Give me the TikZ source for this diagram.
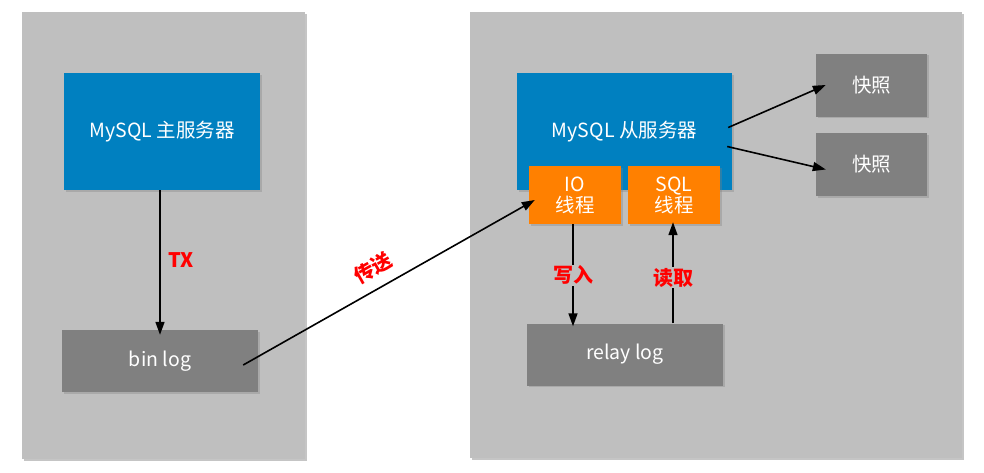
\documentclass[tikz,border=0pt]{standalone}
\usepackage{fontspec}
\setmainfont{Noto Sans CJK SC}
\usetikzlibrary{arrows.meta}
\usetikzlibrary{shadows}
\usetikzlibrary{calc}

\definecolor{panelgray}{RGB}{191,191,191}
\definecolor{loggray}{RGB}{128,128,128}
\definecolor{serverblue}{RGB}{0,128,192}
\definecolor{threadorange}{RGB}{255,128,0}

\tikzset{
  panel/.style={fill=panelgray, draw=none, drop shadow={opacity=0.45, shadow xshift=2pt, shadow yshift=-2pt}},
  box/.style={draw=none, text=white, align=center, inner sep=0pt,
    font=\fontsize{19.5}{21}\selectfont,
    drop shadow={opacity=0.35, shadow xshift=1.5pt, shadow yshift=-1.5pt}},
  server/.style={box, fill=serverblue, minimum width=#1, minimum height=117pt},
  logbox/.style={box, fill=loggray, minimum width=196pt, minimum height=62pt},
  snapbox/.style={box, fill=loggray, minimum width=111pt, minimum height=63pt},
  thread/.style={box, fill=threadorange, minimum width=92pt, minimum height=58pt},
  flow/.style={-{Triangle[length=13pt,width=9pt]}, line width=1.6pt},
  tag/.style={text=red, font=\fontsize{20}{22}\selectfont\bfseries}
}

\begin{document}
\begin{tikzpicture}[x=1pt, y=-1pt]
    \useasboundingbox (0,0) rectangle (984,472);
    \fill[white] (0,0) rectangle (984,472);
    % panels
    \path[panel] (22,12) rectangle (305,459);
    \path[panel] (470,12) rectangle (962,458);
    % master side
    \node[server=196pt] (master) at (162,131.5) {MySQL 主服务器};
    \node[logbox] (binlog) at (160,361) {bin log};
    % slave side
    \node[server=215pt] (slave) at (624.5,131.5) {MySQL 从服务器};
    \node[thread] (io) at (575,195) {IO\\线程};
    \node[thread] (sql) at (674,195) {SQL\\线程};
    \node[logbox] (relaylog) at (625,354.5) {relay log};
    \node[snapbox] (snapA) at (871.5,85) {快照};
    \node[snapbox] (snapB) at (871.5,164.5) {快照};
    % arrows
    \draw[flow] (master.south -| binlog.north) -- node[tag, right=4pt, pos=0.48] {TX} ([yshift=-5pt]binlog.north);
    \draw[flow] ([xshift=-15pt, yshift=-4pt]binlog.east) -- node[tag, sloped, above=7pt, pos=0.48] {传送} ([xshift=6pt, yshift=-5pt]io.west);
    \draw[flow] ([xshift=-2pt]io.south) -- node[tag, pos=0.5, fill=panelgray, inner sep=1pt] {写入} ([xshift=-2pt, yshift=-3pt]io.south |- relaylog.north);
    \draw[flow] ([xshift=-1pt]sql.south |- relaylog.north) -- node[tag, pos=0.45, fill=panelgray, inner sep=1pt] {读取} ([xshift=-1pt, yshift=2pt]sql.south);
    \draw[flow] ([xshift=-4pt, yshift=4pt]slave.east) -- ([xshift=10pt]snapA.west);
    \draw[flow] ([xshift=-5pt, yshift=-15pt]slave.east) -- ([xshift=10pt, yshift=-5pt]snapB.west);
\end{tikzpicture}
\end{document}
